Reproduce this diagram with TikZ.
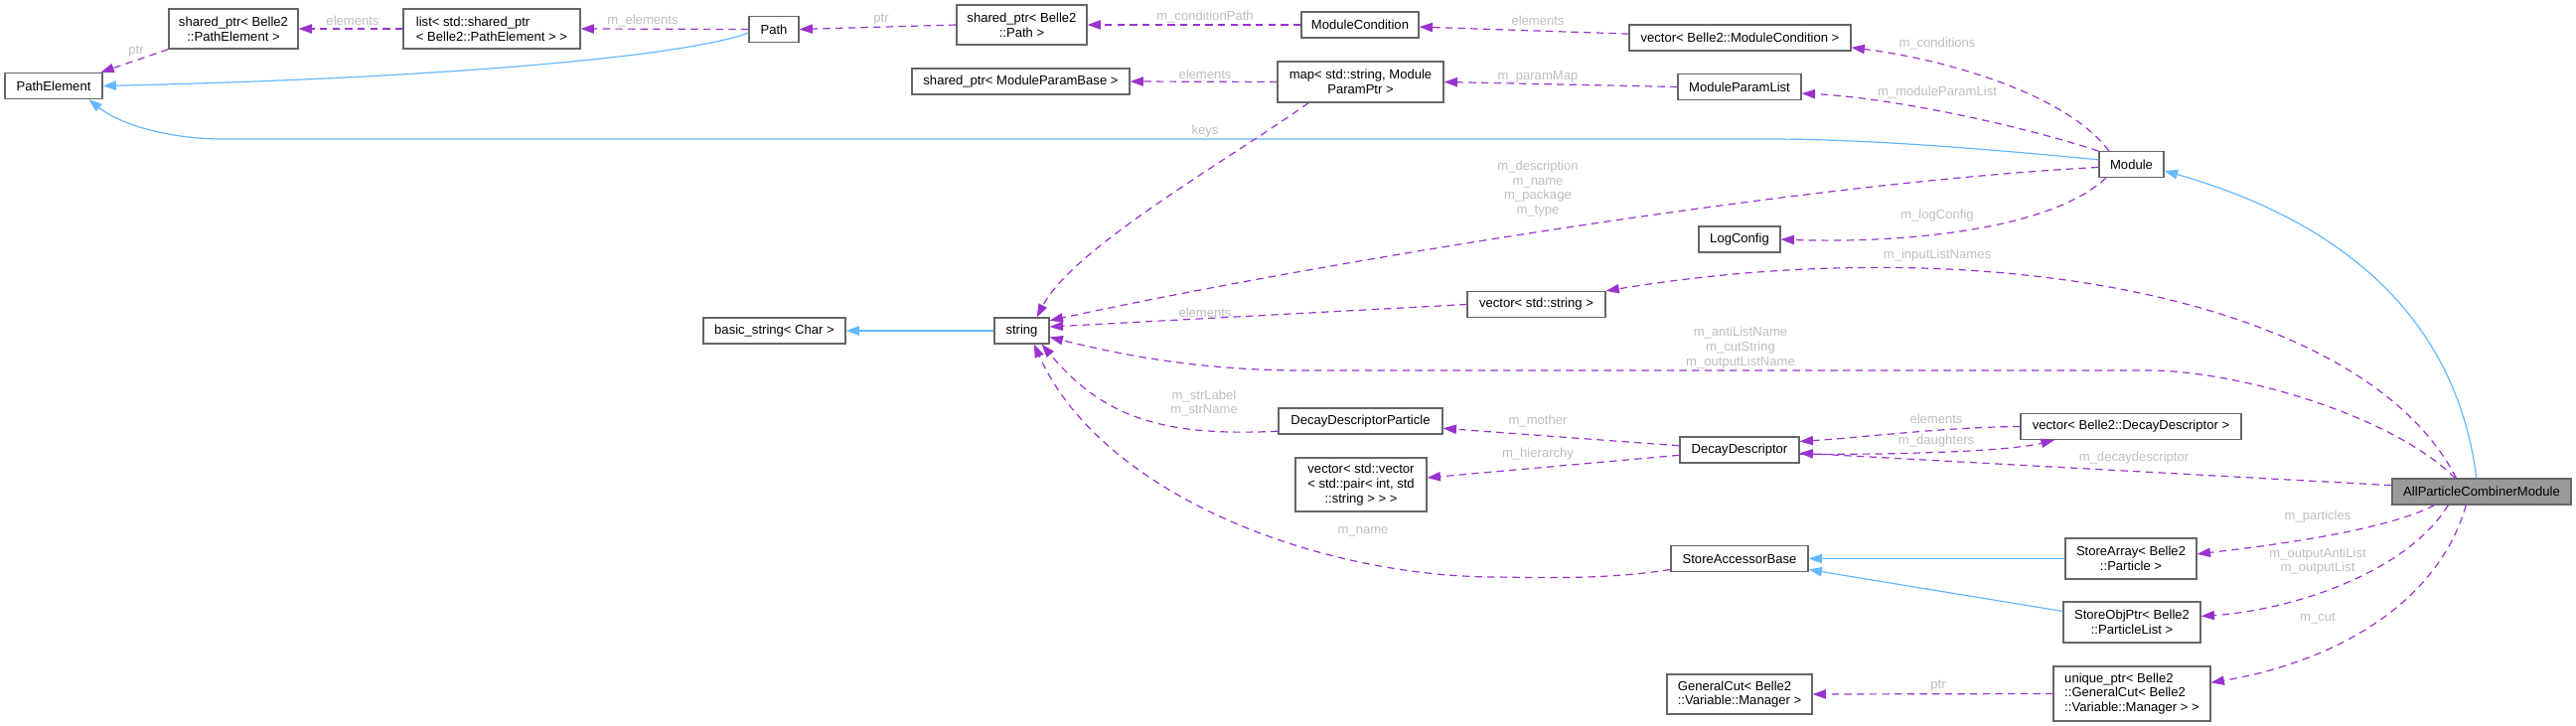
\documentclass[tikz,border=0pt]{standalone}
\usepackage{fontspec}
\setmainfont{Liberation Sans}
\usetikzlibrary{arrows.meta}
\definecolor{usecol}{HTML}{9A32CD}
\definecolor{inhcol}{HTML}{63B8FF}
\definecolor{boxcol}{HTML}{666666}
\definecolor{lblcol}{HTML}{BEBEBE}
\definecolor{mainfill}{HTML}{999999}
\begin{document}
\begin{tikzpicture}[x=0.75pt,y=-0.75pt,
    font=\fontsize{9.8}{11}\selectfont,
    box/.style={draw=boxcol,fill=white,line width=0.9pt,inner sep=0pt,align=center,minimum height=26*0.75pt},
    bw/.style={minimum width=#1*0.75pt},
    bh/.style={minimum height=#1*0.75pt},
    lbl/.style={text=lblcol,align=center,inner sep=0pt},
    usage/.style={draw=usecol,line width=0.9pt,dash pattern=on 5.5pt off 4pt,-{Triangle[length=10pt,width=7pt]}},
    inh/.style={draw=inhcol,line width=0.9pt,-{Triangle[length=10pt,width=7pt]}}]
  \useasboundingbox (0,0) rectangle (2593,731);

  \node[box,bw=130,bh=40] (pathElemPtr) at (235,29) {shared\_ptr< Belle2\\::PathElement >};
  \node[box,bw=178,bh=40,align=left] (elemList) at (495,29) {list< std::shared\_ptr\\< Belle2::PathElement > >};
  \node[box,bw=50] (path) at (779,29.5) {Path};
  \node[box,bw=131,bh=40] (pathPtr) at (1028.5,25) {shared\_ptr< Belle2\\::Path >};
  \node[box,bw=118] (modCond) at (1369,25) {ModuleCondition};
  \node[box,bw=223] (condVec) at (1751.5,38) {vector< Belle2::ModuleCondition >};
  \node[box,bw=219] (paramBasePtr) at (1027.5,82) {shared\_ptr< ModuleParamBase >};
  \node[box,bw=167,bh=41] (paramMap) at (1369.5,82.5) {map< std::string, Module\\ParamPtr >};
  \node[box,bw=124] (paramList) at (1751,87.5) {ModuleParamList};
  \node[box,bw=98] (pathElem) at (54,86.5) {PathElement};
  \node[box,bw=65] (module) at (2145.5,165.5) {Module};
  \node[box,bw=82] (logConfig) at (1751,241) {LogConfig};
  \node[box,bw=143] (basicStr) at (779.5,333) {basic\_string< Char >};
  \node[box,bw=55] (str) at (1028.5,333) {string};
  \node[box,bw=139] (strVec) at (1546.5,306.5) {vector< std::string >};
  \node[box,bw=165] (ddParticle) at (1369.5,424) {DecayDescriptorParticle};
  \node[box,bw=120] (decayDesc) at (1751,453) {DecayDescriptor};
  \node[box,bw=222] (ddVec) at (2145,429.5) {vector< Belle2::DecayDescriptor >};
  \node[box,bw=132,bh=54] (hierVec) at (1370,488) {vector< std::vector\\< std::pair< int, std\\::string > > >};
  \node[box,bw=180,fill=mainfill] (combiner) at (2498,495) {AllParticleCombinerModule};
  \node[box,bw=138] (accBase) at (1751,562.5) {StoreAccessorBase};
  \node[box,bw=132,bh=41] (storeArr) at (2145,562.5) {StoreArray< Belle2\\::Particle >};
  \node[box,bw=138,bh=41] (storeObj) at (2146,626.5) {StoreObjPtr< Belle2\\::ParticleList >};
  \node[box,bw=158,bh=55,align=left] (cutPtr) at (2146,698.5) {unique\_ptr< Belle2\\::GeneralCut< Belle2\\::Variable::Manager > >};
  \node[box,bw=146,bh=40,align=left] (genCut) at (1751,699) {GeneralCut< Belle2\\::Variable::Manager >};

  \draw[inh] (path.188) .. controls (680,60) and (400,80) .. (pathElem.east);
  \draw[inh] (module.172) .. controls (1950,145) and (1850,140) .. (1781,140) -- (224,140)
    .. controls (170,140) and (120,125) .. (pathElem.-21);
  \draw[inh] (combiner.111) .. controls (2470,300) and (2330,215) .. (module.-11);
  \draw[inh] (str.west) -- (basicStr.east);
  \draw[inh] (storeArr.west) -- (accBase.east);
  \draw[inh] (storeObj.171) -- (accBase.-9);

  \draw[usage] (pathElemPtr.south west) -- (pathElem.16);
  \draw[usage] (elemList.west) -- (pathElemPtr.east);
  \draw[usage] (path.west) -- (elemList.east);
  \draw[usage] (pathPtr.west) -- (path.east);
  \draw[usage] (modCond.west) -- (pathPtr.east);
  \draw[usage] (condVec.178) -- (modCond.-2);
  \draw[usage] (paramMap.west) -- (paramBasePtr.east);
  \draw[usage] (paramList.west) -- (paramMap.east);
  \draw[usage] (paramMap.-158) .. controls (1230,165) and (1080,250) .. (str.42);
  \draw[usage] (module.149) .. controls (2080,95) and (1960,60) .. (condVec.-5);
  \draw[usage] (module.158) .. controls (2030,125) and (1900,98) .. (paramList.-6);
  \draw[usage] (module.185) .. controls (1800,185) and (1300,270) .. (str.20);
  \draw[usage] (module.-152) .. controls (2060,235) and (1900,245) .. (logConfig.east);
  \draw[usage] (strVec.west) -- (str.8);
  \draw[usage] (combiner.152) .. controls (2380,300) and (2000,230) .. (strVec.11);
  \draw[usage] (combiner.153) .. controls (2410,420) and (2260,375) .. (2168,373) -- (1313,373)
    .. controls (1200,373) and (1120,355) .. (str.-13);
  \draw[usage] (combiner.176) -- (decayDesc.-3);
  \draw[usage] (decayDesc.-4) .. controls (1900,458) and (2020,455) .. (ddVec.190);
  \draw[usage] (ddVec.west) .. controls (1960,430) and (1880,440) .. (decayDesc.8);
  \draw[usage] (decayDesc.176) -- (ddParticle.-5);
  \draw[usage] (decayDesc.185) -- (hierVec.6);
  \draw[usage] (ddParticle.187) .. controls (1170,440) and (1110,420) .. (str.-34);
  \draw[usage] (accBase.189) .. controls (1620,583) and (1560,582) .. (1507,581)
    .. controls (1330,581) and (1110,500) .. (str.-48);
  \draw[usage] (combiner.196) .. controls (2400,535) and (2280,550) .. (storeArr.4);
  \draw[usage] (combiner.202) .. controls (2420,580) and (2300,615) .. (storeObj.5);
  \draw[usage] (combiner.221) .. controls (2450,620) and (2330,670) .. (cutPtr.8);
  \draw[usage] (cutPtr.west) -- (genCut.east);

  \node[lbl] (lPtrA) at (137,52) {ptr};
  \node[lbl] (lElemA) at (355,21) {elements};
  \node[lbl] (lElements) at (647,21) {m\_elements};
  \node[lbl] (lPtrB) at (887,20) {ptr};
  \node[lbl] (lCondPath) at (1213,17) {m\_conditionPath};
  \node[lbl] (lElemB) at (1548,21) {elements};
  \node[lbl] (lElemC) at (1213,75) {elements};
  \node[lbl] (lParamMap) at (1548,77) {m\_paramMap};
  \node[lbl] (lKeys) at (1213,132) {keys};
  \node[lbl] (lConditions) at (1950,44) {m\_conditions};
  \node[lbl] (lParamList) at (1950,93) {m\_moduleParamList};
  \node[lbl] (lDescription) at (1548,190) {m\_description\\m\_name\\m\_package\\m\_type};
  \node[lbl] (lLogConfig) at (1950,217) {m\_logConfig};
  \node[lbl] (lInputLists) at (1950,257) {m\_inputListNames};
  \node[lbl] (lElemD) at (1213,315) {elements};
  \node[lbl] (lListNames) at (1752,350) {m\_antiListName\\m\_cutString\\m\_outputListName};
  \node[lbl] (lStrLabel) at (1212,406) {m\_strLabel\\m\_strName};
  \node[lbl] (lMother) at (1548,424) {m\_mother};
  \node[lbl] (lElemE) at (1949,422) {elements};
  \node[lbl] (lDaughters) at (1949,444) {m\_daughters};
  \node[lbl] (lHierarchy) at (1548,457) {m\_hierarchy};
  \node[lbl] (lDecayDesc) at (2148,461) {m\_decaydescriptor};
  \node[lbl] (lParticles) at (2333,520) {m\_particles};
  \node[lbl] (lName) at (1372,535) {m\_name};
  \node[lbl] (lOutputs) at (2333,565) {m\_outputAntiList\\m\_outputList};
  \node[lbl] (lCut) at (2333,623) {m\_cut};
  \node[lbl] (lPtrC) at (1951,691) {ptr};
\end{tikzpicture}
\end{document}
